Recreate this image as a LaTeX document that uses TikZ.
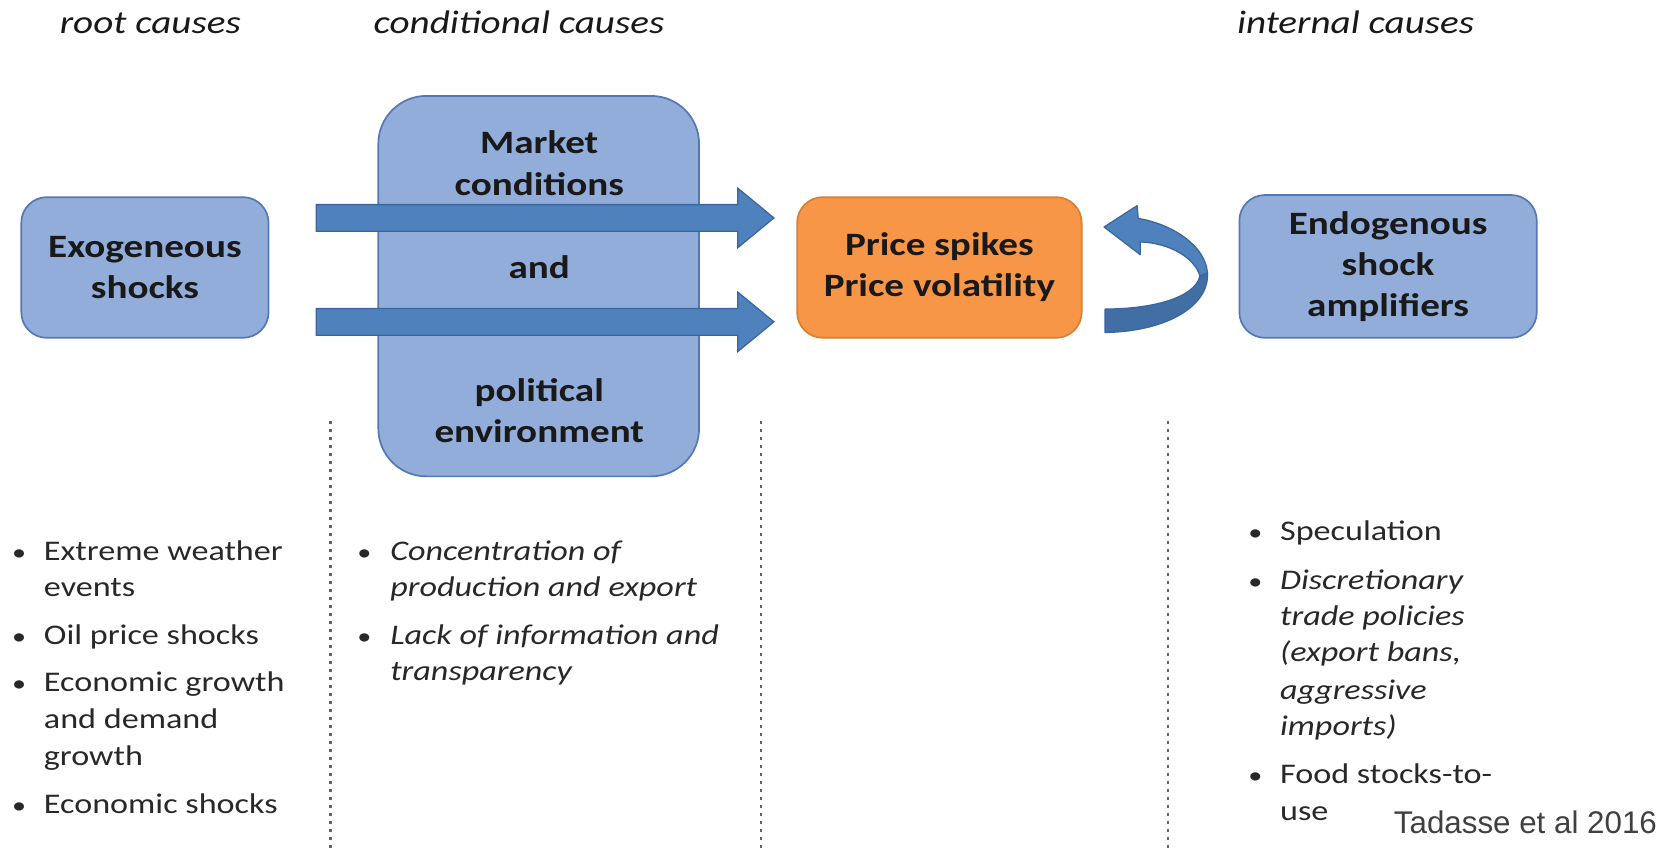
\documentclass[tikz,border=0pt]{standalone}
\usepackage{fontspec}
\setmainfont{Carlito}[FakeStretch=1.2]
\newfontfamily\arialfont{Liberation Sans}
\usetikzlibrary{calc}
\definecolor{boxfill}{RGB}{146,173,217}
\definecolor{boxline}{RGB}{84,120,180}
\definecolor{arrfill}{RGB}{79,129,189}
\definecolor{arrdark}{RGB}{66,110,166}
\definecolor{arrline}{RGB}{58,102,160}
\definecolor{orfill}{RGB}{247,150,70}
\definecolor{orline}{RGB}{214,128,52}
\definecolor{txt}{RGB}{25,25,25}
\definecolor{btxt}{RGB}{40,40,40}
\definecolor{dotcol}{RGB}{100,100,100}
\definecolor{srccol}{RGB}{64,64,64}
\tikzset{
  bluebox/.style={draw=boxline, fill=boxfill, line width=1.6pt, rounded corners=24pt, align=center, text=txt, inner sep=0pt,
    font=\bfseries\fontsize{30.6}{38.5}\selectfont},
  orbox/.style={bluebox, draw=orline, fill=orfill},
  boxtext/.style={anchor=base, inner sep=0pt, text=txt, font=\bfseries\fontsize{30.6}{38.5}\selectfont},
  header/.style={anchor=base, inner sep=0pt, text=txt, font=\itshape\fontsize{30.6}{36}\selectfont},
  btext/.style={anchor=base west, inner sep=0pt, text=btxt, font=\fontsize{26.7}{34.5}\selectfont},
  itext/.style={btext, font=\itshape\fontsize{26.7}{34.5}\selectfont},
  bdot/.style={anchor=base, inner sep=0pt, text=btxt, font=\fontsize{22}{34.5}\selectfont},
  bigarrow/.style={fill=arrfill, draw=arrline, line width=1.2pt, line join=miter},
  dotline/.style={draw=dotcol, line width=2.2pt, dash pattern=on 3pt off 4.5pt}
}
\begin{document}
\begin{tikzpicture}[x=1pt,y=-1pt]
\useasboundingbox (0,0) rectangle (1568,797);
% headers
\node[header] (h1) at (141,31) {root causes};
\node[header] (h2) at (487,31) {conditional causes};
\node[header] (h3) at (1272,31) {internal causes};
% boxes
\node[bluebox, minimum width=232pt, minimum height=132pt] (exo) at (136,251) {Exogeneous\\shocks};
\node[bluebox, minimum width=301pt, minimum height=357pt, rounded corners=45pt] (mkt) at (505.5,268.5) {};
\node[boxtext] (m1) at (506,144) {Market};
\node[boxtext] (m2) at (506,183) {conditions};
\node[boxtext] (m3) at (506,261) {and};
\node[boxtext] (m4) at (506,377) {political};
\node[boxtext] (m5) at (506,415) {environment};
\node[orbox, minimum width=267pt, minimum height=132pt] (price) at (881.5,251) {Price spikes\\Price volatility};
\node[bluebox, minimum width=279pt, minimum height=134pt] (endo) at (1302.5,250) {Endogenous\\shock\\amplifiers};
% straight arrows
\coordinate (a1s) at ([xshift=44pt,yshift=46.5pt]exo.east);
\coordinate (a1t) at ([xshift=-21pt,yshift=46.5pt]price.west);
\coordinate (a2s) at ([xshift=44pt,yshift=-51pt]exo.east);
\coordinate (a2t) at ([xshift=-21pt,yshift=-51pt]price.west);
\filldraw[bigarrow] let \p1=(a1s), \p2=(a1t) in
  (\x1,\y1+12.5pt) -- (\x2-34pt,\y1+12.5pt) -- (\x2-34pt,\y1+28pt) -- (\x2,\y2)
  -- (\x2-34pt,\y1-28pt) -- (\x2-34pt,\y1-12.5pt) -- (\x1,\y1-12.5pt) -- cycle;
\filldraw[bigarrow] let \p1=(a2s), \p2=(a2t) in
  (\x1,\y1+12.5pt) -- (\x2-34pt,\y1+12.5pt) -- (\x2-34pt,\y1+28pt) -- (\x2,\y2)
  -- (\x2-34pt,\y1-28pt) -- (\x2-34pt,\y1-12.5pt) -- (\x1,\y1-12.5pt) -- cycle;
% curved arrow: lower (darker) half
\filldraw[bigarrow, fill=arrdark, line join=round] (1133,256)
  .. controls (1135,287) and (1095,311) .. (1037,312)
  -- (1037,290)
  .. controls (1080,290) and (1121,280) .. (1126,259) -- cycle;
% curved arrow: upper half with head
\filldraw[bigarrow, line join=round] (1036,213) -- (1067,193) -- (1068,205)
  .. controls (1099,210) and (1131,230) .. (1133,256)
  -- (1126,259)
  .. controls (1121,242) and (1098,228) .. (1070,227)
  -- (1070,239) -- cycle;
% dotted separators
\draw[dotline] (310,395) -- (310,797);
\draw[dotline] (714,395) -- (714,797);
\draw[dotline] (1096,395) -- (1096,797);
% left column
\node[bdot] (lb1) at (18,526) {•};
\node[btext] (l1) at (41,526) {Extreme weather};
\node[btext] (l2) at (41,560) {events};
\node[bdot] (lb2) at (18,605) {•};
\node[btext] (l3) at (41,605) {Oil price shocks};
\node[bdot] (lb3) at (18,649) {•};
\node[btext] (l4) at (41,649) {Economic growth};
\node[btext] (l5) at (41,684) {and demand};
\node[btext] (l6) at (41,718) {growth};
\node[bdot] (lb4) at (18,763) {•};
\node[btext] (l7) at (41,763) {Economic shocks};
% middle column
\node[bdot] (cb1) at (342,526) {•};
\node[itext] (c1) at (366,526) {Concentration of};
\node[itext] (c2) at (366,560) {production and export};
\node[bdot] (cb2) at (342,605) {•};
\node[itext] (c3) at (366,605) {Lack of information and};
\node[itext] (c4) at (366,639) {transparency};
% right column
\node[bdot] (rb1) at (1178,507) {•};
\node[btext] (r1) at (1201,507) {Speculation};
\node[bdot] (rb2) at (1178,553) {•};
\node[itext] (r2) at (1201,553) {Discretionary};
\node[itext] (r3) at (1201,587) {trade policies};
\node[itext] (r4) at (1201,621) {(export bans,};
\node[itext] (r5) at (1201,656) {aggressive};
\node[itext] (r6) at (1201,690) {imports)};
\node[bdot] (rb3) at (1178,735) {•};
\node[btext] (r7) at (1201,735) {Food stocks-to-};
\node[btext] (r8) at (1201,770) {use};
% source
\node[anchor=base east, inner sep=0pt, text=srccol, font=\arialfont\fontsize{29.4}{34}\selectfont] (src) at (1555,782) {Tadasse et al 2016};
\end{tikzpicture}
\end{document}
